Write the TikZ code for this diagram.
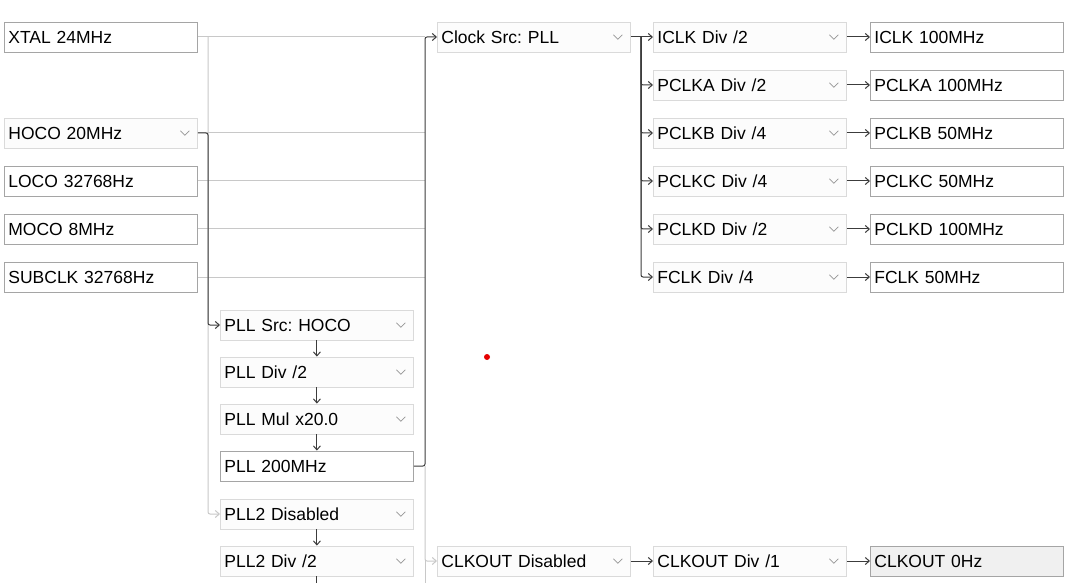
\documentclass[tikz,border=0pt]{standalone}
\usepackage{fontspec}
\setmainfont{Liberation Sans}
\frenchspacing
\usetikzlibrary{arrows.meta}

\definecolor{wireon}{RGB}{60,60,60}
\definecolor{wireoff}{RGB}{200,200,200}
\definecolor{combobd}{RGB}{218,218,218}
\definecolor{labelbd}{RGB}{165,165,165}
\definecolor{combofill}{RGB}{252,252,252}
\definecolor{greyfill}{RGB}{240,240,240}
\definecolor{chevron}{RGB}{150,150,150}

\tikzset{
  box/.style={draw, anchor=west, minimum height=30pt, text width=185pt,
    inner xsep=4pt, inner ysep=0pt, align=left, line width=0.8pt,
    font=\fontsize{17.5pt}{20pt}\selectfont},
  combo/.style={box, draw=combobd, fill=combofill,
    path picture={\draw[chevron, line width=0.7pt]
      ([xshift=-17pt,yshift=2.2pt]path picture bounding box.east)
      -- ++(4.5pt,-4.5pt) -- ++(4.5pt,4.5pt);}},
  readout/.style={box, draw=labelbd, fill=white},
  livewire/.style={draw=wireon, line width=1pt, rounded corners=2pt},
  idlewire/.style={draw=wireoff, line width=1pt, rounded corners=2pt},
  tip/.style={-{Straight Barb[length=4pt,width=7pt]}}
}

\begin{document}
\begin{tikzpicture}[x=1pt, y=-1pt]
  \useasboundingbox[fill=white] (0,0) rectangle (1080,583);

  % Bus columns
  \coordinate (srcbus) at (208,0);
  \coordinate (selbus) at (425,0);
  \coordinate (divbus) at (641,0);
  \coordinate (bottom) at (0,583);

  % Oscillators
  \node[readout] (xtal)   at (4,37)  {XTAL 24MHz};
  \node[combo]   (hoco)   at (4,133) {HOCO 20MHz};
  \node[readout] (loco)   at (4,181) {LOCO 32768Hz};
  \node[readout] (moco)   at (4,229) {MOCO 8MHz};
  \node[readout] (subclk) at (4,277) {SUBCLK 32768Hz};

  % PLL chain
  \node[combo]   (pllsrc)  at (220,325) {PLL Src: HOCO};
  \node[combo]   (plldiv)  at (220,372) {PLL Div /2};
  \node[combo]   (pllmul)  at (220,419) {PLL Mul x20.0};
  \node[readout] (pllout)  at (220,466) {PLL 200MHz};
  \node[combo]   (pll2src) at (220,514) {PLL2 Disabled};
  \node[combo]   (pll2div) at (220,561) {PLL2 Div /2};

  % Clock selectors
  \node[combo] (clksrc)    at (437,37)  {Clock Src: PLL};
  \node[combo] (clkoutsrc) at (437,561) {CLKOUT Disabled};

  % Dividers
  \node[combo] (iclkdiv)   at (653,37)  {ICLK Div /2};
  \node[combo] (pclkadiv)  at (653,85)  {PCLKA Div /2};
  \node[combo] (pclkbdiv)  at (653,133) {PCLKB Div /4};
  \node[combo] (pclkcdiv)  at (653,181) {PCLKC Div /4};
  \node[combo] (pclkddiv)  at (653,229) {PCLKD Div /2};
  \node[combo] (fclkdiv)   at (653,277) {FCLK Div /4};
  \node[combo] (clkoutdiv) at (653,561) {CLKOUT Div /1};

  % Output frequencies
  \node[readout] (iclk)   at (870,37)  {ICLK 100MHz};
  \node[readout] (pclka)  at (870,85)  {PCLKA 100MHz};
  \node[readout] (pclkb)  at (870,133) {PCLKB 50MHz};
  \node[readout] (pclkc)  at (870,181) {PCLKC 50MHz};
  \node[readout] (pclkd)  at (870,229) {PCLKD 100MHz};
  \node[readout] (fclk)   at (870,277) {FCLK 50MHz};
  \node[readout, fill=greyfill] (clkout) at (870,561) {CLKOUT 0Hz};

  % Idle paths
  \foreach \s in {xtal,hoco,loco,moco,subclk}
    \draw[idlewire] (\s.east) -- (\s.east -| selbus);
  \draw[idlewire, tip] (xtal.east -| srcbus) |- (pll2src.west);
  \draw[idlewire, tip] (pllout.east -| selbus) |- (clkoutsrc.west);
  \draw[idlewire] (clkoutsrc.west -| selbus) -- (selbus |- bottom);

  % Active paths
  \draw[livewire, tip] (hoco.east) -| (srcbus |- pllsrc.west) -- (pllsrc.west);
  \draw[livewire, tip] (pllsrc) -- (plldiv);
  \draw[livewire, tip] (plldiv) -- (pllmul);
  \draw[livewire, tip] (pllmul) -- (pllout);
  \draw[livewire, tip] (pll2src) -- (pll2div);
  \draw[livewire] (pll2div.south) -- (pll2div.south |- bottom);
  \draw[livewire, tip] (pllout.east) -| (selbus |- clksrc.west) -- (clksrc.west);
  \draw[livewire, tip] (clksrc.east) -- (iclkdiv.west);
  \foreach \d in {pclkadiv,pclkbdiv,pclkcdiv,pclkddiv,fclkdiv}
    \draw[livewire, tip] (clksrc.east -| divbus) |- (\d.west);
  \foreach \d/\o in {iclkdiv/iclk,pclkadiv/pclka,pclkbdiv/pclkb,pclkcdiv/pclkc,pclkddiv/pclkd,fclkdiv/fclk,clkoutdiv/clkout}
    \draw[livewire, tip] (\d.east) -- (\o.west);
  \draw[livewire, tip] (clkoutsrc.east) -- (clkoutdiv.west);

  % Marker
  \fill[red!90!black] (487,357) circle (3);
\end{tikzpicture}
\end{document}
